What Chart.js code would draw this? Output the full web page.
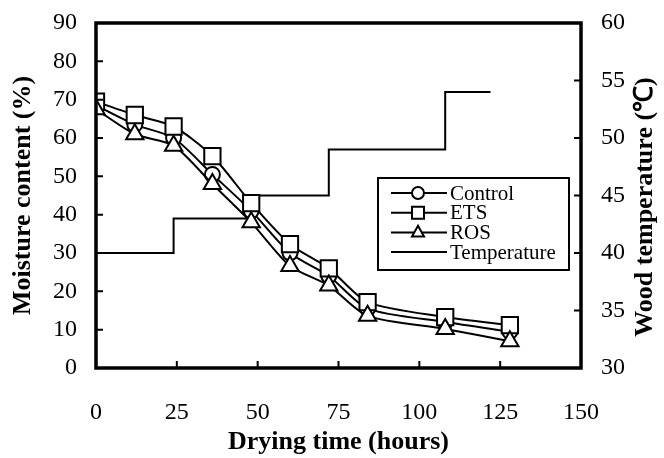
<!DOCTYPE html>
<html>
<head>
<meta charset="utf-8">
<script src="https://cdn.jsdelivr.net/npm/chart.js@4.4.1/dist/chart.umd.min.js"></script>
<style>
  html, body { margin: 0; padding: 0; background: #fff; }
  #wrap { width: 664px; height: 458px; }
</style>
</head>
<body>
<div id="wrap"><canvas id="dryingChart" width="664" height="458"></canvas></div>
<script>
// Drying curves: moisture content vs drying time, plus kiln wood temperature
const hours = [0, 12, 24, 36, 48, 60, 72, 84, 108, 128];
const controlMC = [68.5, 63.5, 60, 50.5, 41, 30, 24, 15.5, 12, 9.5];
const etsMC = [69.5, 66, 63, 55.3, 43, 32.3, 26, 17.2, 13.3, 11.2];
const rosMC = [67.5, 61, 58, 48, 38, 26.6, 21.5, 13.6, 10.2, 7];

const tempHours = [0, 24, 48, 72, 108, 122];
const woodTemp = [40, 43, 45, 49, 54, 54];

const seriesNames = ['Control', 'ETS', 'ROS', 'Temperature'];

const serif = '"Liberation Serif", "Times New Roman", serif';
const toPoints = (xs, ys) => xs.map((x, i) => ({ x: x, y: ys[i] }));

// inner tick marks + full frame
const frameTicks = {
    id: 'frameTicks',
    afterDraw(chart) {
        const ctx = chart.ctx;
        const a = chart.chartArea;
        const len = 7;
        ctx.save();
        ctx.strokeStyle = '#000';
        ctx.lineWidth = 2;
        ctx.beginPath();
        chart.scales.x.ticks.forEach(t => {
            const px = chart.scales.x.getPixelForValue(t.value);
            if (px <= a.left + 1 || px >= a.right - 1) return;
            ctx.moveTo(px, a.bottom);
            ctx.lineTo(px, a.bottom - len);
        });
        chart.scales.y.ticks.forEach(t => {
            const py = chart.scales.y.getPixelForValue(t.value);
            if (py <= a.top + 1 || py >= a.bottom - 1) return;
            ctx.moveTo(a.left, py);
            ctx.lineTo(a.left + len, py);
        });
        chart.scales.y2.ticks.forEach(t => {
            const py = chart.scales.y2.getPixelForValue(t.value);
            if (py <= a.top + 1 || py >= a.bottom - 1) return;
            ctx.moveTo(a.right, py);
            ctx.lineTo(a.right - len, py);
        });
        ctx.stroke();
        ctx.lineWidth = 3.5;
        ctx.strokeRect(a.left, a.top, a.right - a.left, a.bottom - a.top);

        // right axis title, reading bottom to top
        ctx.fillStyle = '#000';
        ctx.font = 'bold 26px ' + serif;
        ctx.textAlign = 'center';
        ctx.textBaseline = 'middle';
        ctx.translate(645, 207);
        ctx.rotate(-Math.PI / 2);
        ctx.fillText('Wood temperature (\u2103)', 0, 0);
        ctx.restore();
    }
};

function drawMarker(ctx, style, x, y, r) {
    ctx.beginPath();
    if (style === 'circle') {
        ctx.arc(x, y, r, 0, Math.PI * 2);
    } else if (style === 'rect') {
        ctx.rect(x - r, y - r, 2 * r, 2 * r);
    } else if (style === 'triangle') {
        ctx.moveTo(x, y - r * 1.1);
        ctx.lineTo(x + r, y + r * 0.7);
        ctx.lineTo(x - r, y + r * 0.7);
        ctx.closePath();
    }
    ctx.fill();
    ctx.stroke();
}

// boxed legend inside the plot
const boxLegend = {
    id: 'boxLegend',
    afterDraw(chart) {
        const ctx = chart.ctx;
        const left = 378, top = 178, w = 191, h = 92;
        ctx.save();
        ctx.fillStyle = '#fff';
        ctx.fillRect(left, top, w, h);
        ctx.strokeStyle = '#000';
        ctx.lineWidth = 2;
        ctx.strokeRect(left, top, w, h);
        ctx.font = '21px ' + serif;
        ctx.textBaseline = 'middle';
        chart.data.datasets.forEach((ds, i) => {
            const y = top + 15 + i * 19.7;
            ctx.strokeStyle = '#000';
            ctx.lineWidth = 2;
            ctx.beginPath();
            ctx.moveTo(left + 13, y);
            ctx.lineTo(left + 69, y);
            ctx.stroke();
            if (ds.pointRadius > 0) {
                ctx.fillStyle = '#fff';
                drawMarker(ctx, ds.pointStyle, left + 40, y, 6);
            }
            ctx.fillStyle = '#000';
            ctx.fillText(ds.label, left + 72, y + 1);
        });
        ctx.restore();
    }
};

const ctx = document.getElementById('dryingChart').getContext('2d');

new Chart(ctx, {
    type: 'line',
    data: {
        datasets: [
            {
                label: seriesNames[0],
                data: toPoints(hours, controlMC),
                borderColor: '#000',
                borderWidth: 2,
                backgroundColor: '#fff',
                pointStyle: 'circle',
                pointRadius: 7.5,
                pointBorderWidth: 2,
                tension: 0.25,
                order: 2,
                yAxisID: 'y'
            },
            {
                label: seriesNames[1],
                data: toPoints(hours, etsMC),
                borderColor: '#000',
                borderWidth: 2,
                backgroundColor: '#fff',
                pointStyle: 'rect',
                pointRadius: 11.5,
                pointBorderWidth: 2,
                tension: 0.25,
                order: 1,
                yAxisID: 'y'
            },
            {
                label: seriesNames[2],
                data: toPoints(hours, rosMC),
                borderColor: '#000',
                borderWidth: 2,
                backgroundColor: '#fff',
                pointStyle: 'triangle',
                pointRadius: 10,
                pointBorderWidth: 2,
                tension: 0.25,
                order: 0,
                yAxisID: 'y'
            },
            {
                label: seriesNames[3],
                data: toPoints(tempHours, woodTemp),
                borderColor: '#000',
                borderWidth: 2,
                pointRadius: 0,
                stepped: true,
                order: 3,
                yAxisID: 'y2'
            }
        ]
    },
    options: {
        responsive: false,
        animation: false,
        layout: { padding: { top: 23, left: 0, right: 0, bottom: 0 } },
        plugins: {
            legend: { display: false },
            tooltip: { enabled: false }
        },
        scales: {
            x: {
                type: 'linear',
                min: 0,
                max: 150,
                ticks: {
                    stepSize: 25,
                    color: '#000',
                    font: { family: serif, size: 24 },
                    padding: 30,
                    maxRotation: 0
                },
                grid: { display: false, drawTicks: false },
                border: { display: false },
                title: {
                    display: true,
                    text: 'Drying time (hours)',
                    color: '#000',
                    font: { family: serif, size: 26, weight: 'bold' },
                    padding: { top: 0, bottom: 0 }
                },
                afterFit: s => { s.height = 90; s.paddingLeft = 0; s.paddingRight = 0; }
            },
            y: {
                position: 'left',
                min: 0,
                max: 90,
                ticks: {
                    stepSize: 10,
                    color: '#000',
                    font: { family: serif, size: 24 },
                    padding: 19
                },
                grid: { display: false, drawTicks: false },
                border: { display: false },
                title: {
                    display: true,
                    text: 'Moisture content (%)',
                    color: '#000',
                    font: { family: serif, size: 26, weight: 'bold' },
                    padding: { top: 8, bottom: 0 }
                },
                afterFit: s => { s.width = 96; s.paddingTop = 0; s.paddingBottom = 0; }
            },
            y2: {
                position: 'right',
                min: 30,
                max: 60,
                ticks: {
                    stepSize: 5,
                    color: '#000',
                    font: { family: serif, size: 24 },
                    padding: 20
                },
                grid: { display: false, drawTicks: false },
                border: { display: false },
                afterFit: s => { s.width = 83; s.paddingTop = 0; s.paddingBottom = 0; }
            }
        }
    },
    plugins: [frameTicks, boxLegend]
});
</script>
</body>
</html>
